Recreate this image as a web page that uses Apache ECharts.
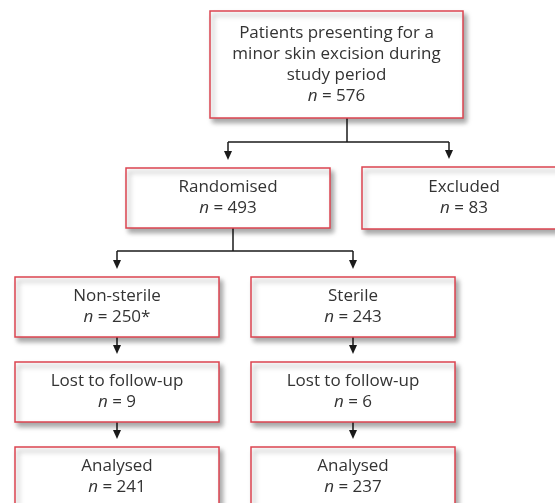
<!DOCTYPE html>
<html>
<head>
<meta charset="utf-8">
<script src="https://cdn.jsdelivr.net/npm/echarts@6/dist/echarts.min.js"></script>
<style>
    html, body { margin: 0; padding: 0; background: #fff; }
    #chart { width: 555px; height: 503px; }
</style>
</head>
<body>
<div id="chart"></div>
<script>
// flow stages
var stageNames = ['Patients presenting for a\nminor skin excision during\nstudy period', 'Randomised', 'Excluded',
    'Non-sterile', 'Sterile', 'Lost to follow-up', 'Lost to follow-up', 'Analysed', 'Analysed'];
var stageCounts = [576, 493, 83, 250, 243, 9, 6, 241, 237];
var stageNotes = ['', '', '', '*', '', '', '', '', ''];
// parent -> children
var flowParents = [0, 1, 3, 4, 5, 6];
var flowChildren = [[1, 2], [3, 4], [5], [6], [7], [8]];

// layout, in pixels of the 555x503 frame
var boxLayout = [
    { x: 210, y: 11, w: 253, h: 107 },
    { x: 126, y: 168, w: 204, h: 60 },
    { x: 362, y: 167, w: 204, h: 62 },
    { x: 15, y: 277, w: 204, h: 60 },
    { x: 251, y: 277, w: 204, h: 60 },
    { x: 15, y: 362, w: 204, h: 60 },
    { x: 251, y: 362, w: 204, h: 60 },
    { x: 15, y: 447, w: 204, h: 60 },
    { x: 251, y: 447, w: 204, h: 60 }
];
var linkLayout = [
    { stemX: 347, busY: 142, arrowX: [228, 449] },
    { stemX: 233, busY: 251, arrowX: [117, 353] },
    { stemX: 117, arrowX: [117] },
    { stemX: 353, arrowX: [353] },
    { stemX: 117, arrowX: [117] },
    { stemX: 353, arrowX: [353] }
];

var textFont = '"Open Sans", sans-serif';
var lineColor = '#1a1a1a';

function renderBox(params, api) {
    var i = api.value(0);
    var b = boxLayout[i];
    var p0 = api.coord([b.x, b.y]);
    var p1 = api.coord([b.x + b.w, b.y + b.h]);
    var label = stageNames[i] + '\n{i|n} = ' + stageCounts[i] + stageNotes[i];
    return {
        type: 'group',
        children: [
            {
                type: 'rect',
                shape: { x: p0[0], y: p0[1], width: p1[0] - p0[0], height: p1[1] - p0[1] },
                style: {
                    fill: '#fff', stroke: '#dc4450', lineWidth: 1.5,
                    shadowBlur: 5, shadowOffsetX: 3, shadowOffsetY: 4, shadowColor: 'rgba(0,0,0,0.35)'
                }
            },
            {
                type: 'text',
                x: (p0[0] + p1[0]) / 2,
                y: (p0[1] + p1[1]) / 2,
                style: {
                    text: label, align: 'center', verticalAlign: 'middle',
                    fill: '#333', fontSize: 17, fontFamily: textFont, lineHeight: 21,
                    rich: {
                        i: { fontStyle: 'italic', fontSize: 17, fontFamily: textFont, fill: '#333', lineHeight: 21 }
                    }
                }
            }
        ]
    };
}

function renderLink(params, api) {
    var k = api.value(0);
    var lay = linkLayout[k];
    var parent = boxLayout[flowParents[k]];
    var kids = flowChildren[k];
    var children = [];
    var lineStyle = { stroke: lineColor, lineWidth: 1.5, fill: null };
    var top = api.coord([lay.stemX, parent.y + parent.h]);

    var busY = lay.busY;
    if (busY != null) {
        var bus = api.coord([lay.stemX, busY]);
        children.push({ type: 'line', shape: { x1: top[0], y1: top[1], x2: bus[0], y2: bus[1] }, style: lineStyle });
        var a = api.coord([lay.arrowX[0], busY]);
        var z = api.coord([lay.arrowX[lay.arrowX.length - 1], busY]);
        children.push({ type: 'line', shape: { x1: a[0], y1: a[1], x2: z[0], y2: z[1] }, style: lineStyle });
    }
    for (var j = 0; j < kids.length; j++) {
        var c = boxLayout[kids[j]];
        var ax = lay.arrowX[j];
        var from = api.coord([ax, busY != null ? busY : parent.y + parent.h]);
        var tip = api.coord([ax, c.y - 8]);
        children.push({ type: 'line', shape: { x1: from[0], y1: from[1], x2: tip[0], y2: tip[1] - 6 }, style: lineStyle });
        children.push({
            type: 'polygon',
            shape: { points: [[tip[0] - 4, tip[1] - 9], [tip[0] + 4, tip[1] - 9], [tip[0], tip[1]]] },
            style: { fill: lineColor }
        });
    }
    return { type: 'group', children: children };
}

var chart = echarts.init(document.getElementById('chart'));

var option = {
    animation: false,
    grid: { left: 0, right: 0, top: 0, bottom: 0 },
    xAxis: { type: 'value', min: 0, max: 555, show: false },
    yAxis: { type: 'value', min: 0, max: 503, inverse: true, show: false },
    series: [
        {
            type: 'custom',
            name: 'links',
            clip: false,
            renderItem: renderLink,
            data: flowParents.map(function (p, k) { return [k]; })
        },
        {
            type: 'custom',
            name: 'stages',
            clip: false,
            renderItem: renderBox,
            data: stageNames.map(function (s, i) { return [i]; })
        }
    ]
};

chart.setOption(option);
</script>
</body>
</html>
